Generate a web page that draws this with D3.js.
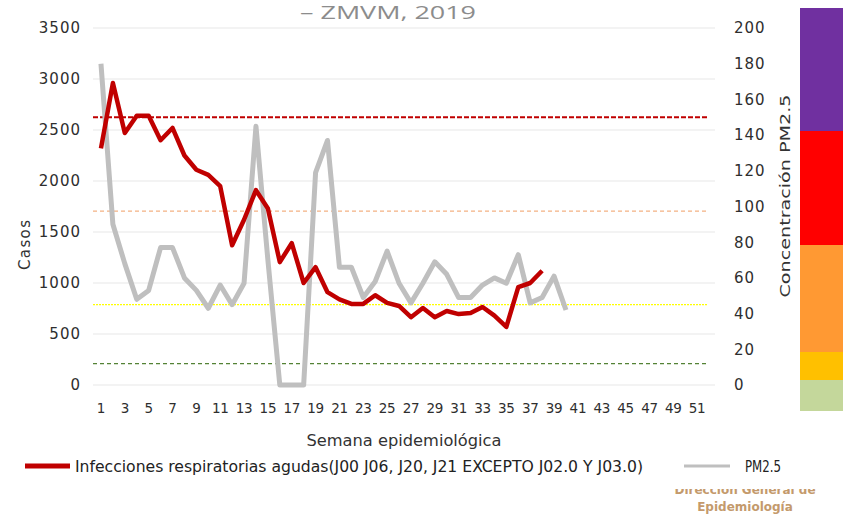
<!DOCTYPE html>
<html>
<head>
<meta charset="utf-8">
<script src="https://cdn.jsdelivr.net/npm/d3@7"></script>
<style>
    body { margin: 0; background: #fff; }
    svg { display: block; }
</style>
</head>
<body>
<script>
// weekly values
var semanas = d3.range(1, 53);
var casos = [2320, 2960, 2470, 2640, 2640, 2400, 2520, 2250, 2110, 2060,
    1950, 1370, 1620, 1910, 1730, 1205, 1390, 1000, 1155, 910,
    840, 795, 795, 880, 805, 775, 665, 755, 665, 725,
    695, 705, 765, 680, 570, 960, 1000, 1120];
var pm25 = [180, 90, 68, 48, 53, 77, 77, 60, 53, 43,
    56, 45, 57, 145, 70, 0, 0, 0, 119, 137,
    66, 66, 49, 58, 75, 57, 46, 57, 69, 62,
    49, 49, 56, 60, 57, 73, 46, 49, 61, 42];

// PM2.5 index thresholds (right axis)
var umbrales = [150, 97.4, 45, 12];
var umbralColores = ["#c00000", "#f4b183", "#ffff00", "#548235"];
var umbralDash = ["5,2", "4,3", "2,1", "4,3"];

var ticksCasos = d3.range(0, 3501, 500);
var ticksPM = d3.range(0, 201, 20);
var ticksSemana = semanas.filter(function (d) { return d % 2 == 1; });

// colour strip on the right (relative heights)
var bandaColores = ["#7030a0", "#ff0000", "#ff9933", "#ffc000", "#c4d79b"];
var bandaTamanos = [123, 114, 107, 28, 31];

var width = 843, height = 514;
var plot = { left: 93, right: 715, top: 28, bottom: 385 };

var svg = d3.select("body").append("svg")
    .attr("width", width)
    .attr("height", height)
    .style("font-family", "'DejaVu Sans', sans-serif");

// soft edge for the grey line
svg.append("defs").append("filter")
    .attr("id", "blur")
    .append("feGaussianBlur").attr("stdDeviation", 0.7);

var x = d3.scaleBand().domain(semanas).range([95, 715]);
var yL = d3.scaleLinear().domain([0, 3500]).range([plot.bottom, plot.top]);
var yR = d3.scaleLinear().domain([0, 200]).range([plot.bottom, plot.top]);
function cx(i) { return x(i + 1) + x.bandwidth() / 2; }

// title (only its last line is visible)
svg.append("text")
    .attr("x", 388).attr("y", 19)
    .attr("text-anchor", "middle")
    .attr("fill", "#8c8c8c")
    .style("font-family", "'Open Sans', sans-serif")
    .style("font-size", "18px")
    .attr("textLength", 176).attr("lengthAdjust", "spacingAndGlyphs")
    .text("– ZMVM, 2019");

// gridlines
svg.append("g").selectAll("line")
    .data(ticksCasos)
    .enter().append("line")
    .attr("x1", plot.left).attr("x2", plot.right)
    .attr("y1", function (d) { return yL(d); })
    .attr("y2", function (d) { return yL(d); })
    .attr("stroke", "#e8e8e8")
    .attr("stroke-width", 1.2);

// left axis
var axL = svg.append("g")
    .attr("transform", "translate(81,0)")
    .call(d3.axisLeft(yL).tickValues(ticksCasos).tickSize(0).tickPadding(0).tickFormat(d3.format("d")));
axL.select(".domain").remove();
axL.selectAll("text")
    .attr("fill", "#2e2e2e")
    .style("font-size", "15px")
    .style("letter-spacing", "1px")
    .style("font-family", "'DejaVu Sans', sans-serif");

// right axis
var axR = svg.append("g")
    .attr("transform", "translate(734,0)")
    .call(d3.axisRight(yR).tickValues(ticksPM).tickSize(0).tickPadding(0));
axR.select(".domain").remove();
axR.selectAll("text")
    .attr("fill", "#2e2e2e")
    .style("font-size", "15px")
    .style("letter-spacing", "1px")
    .style("font-family", "'DejaVu Sans', sans-serif");

// bottom axis
var axB = svg.append("g")
    .attr("transform", "translate(0,397)")
    .call(d3.axisBottom(x).tickValues(ticksSemana).tickSize(0).tickPadding(6));
axB.select(".domain").remove();
axB.selectAll("text")
    .attr("fill", "#2e2e2e")
    .style("font-size", "13.5px")
    .style("letter-spacing", "-0.3px")
    .style("font-family", "'DejaVu Sans', sans-serif");

// axis titles
svg.append("text")
    .attr("transform", "translate(30,245) rotate(-90)")
    .attr("text-anchor", "middle")
    .attr("fill", "#333")
    .style("font-size", "15px")
    .attr("textLength", 50).attr("lengthAdjust", "spacing")
    .text("Casos");

svg.append("text")
    .attr("transform", "translate(790,196) rotate(-90)")
    .attr("text-anchor", "middle")
    .attr("fill", "#333")
    .style("font-size", "14px")
    .attr("textLength", 203).attr("lengthAdjust", "spacingAndGlyphs")
    .text("Concentración PM2.5");

svg.append("text")
    .attr("x", 404).attr("y", 446)
    .attr("text-anchor", "middle")
    .attr("fill", "#333")
    .style("font-size", "15px")
    .attr("textLength", 195).attr("lengthAdjust", "spacingAndGlyphs")
    .text("Semana epidemiológica");

// threshold lines
svg.append("g").selectAll("line")
    .data(umbrales)
    .enter().append("line")
    .attr("x1", plot.left).attr("x2", 707)
    .attr("y1", function (d) { return yR(d); })
    .attr("y2", function (d) { return yR(d); })
    .attr("stroke", function (d, i) { return umbralColores[i]; })
    .attr("stroke-width", function (d, i) { return i == 0 ? 2 : 1.2; })
    .attr("stroke-dasharray", function (d, i) { return umbralDash[i]; });

// PM2.5 line
var lineaPM = d3.line()
    .x(function (d, i) { return cx(i); })
    .y(function (d) { return yR(d); });
svg.append("path")
    .datum(pm25)
    .attr("d", lineaPM)
    .attr("fill", "none")
    .attr("stroke", "#bfbfbf")
    .attr("stroke-width", 5)
    .attr("stroke-linejoin", "round")
    .attr("filter", "url(#blur)");

// cases line
var lineaCasos = d3.line()
    .x(function (d, i) { return cx(i); })
    .y(function (d) { return yL(d); });
svg.append("path")
    .datum(casos)
    .attr("d", lineaCasos)
    .attr("fill", "none")
    .attr("stroke", "#c00000")
    .attr("stroke-width", 4.5)
    .attr("stroke-linejoin", "round");

// colour strip
var yBanda = d3.scaleLinear().domain([0, d3.sum(bandaTamanos)]).range([8, 411]);
var acum = d3.cumsum([0].concat(bandaTamanos));
svg.append("g").selectAll("rect")
    .data(bandaColores)
    .enter().append("rect")
    .attr("x", 800).attr("width", 43)
    .attr("y", function (d, i) { return yBanda(acum[i]); })
    .attr("height", function (d, i) { return yBanda(acum[i + 1]) - yBanda(acum[i]); })
    .attr("fill", function (d) { return d; });

// footer logo text (top line partly hidden)
svg.append("text")
    .attr("x", 745).attr("y", 494)
    .attr("text-anchor", "middle")
    .attr("fill", "#c49a6c")
    .style("font-size", "12px").style("font-weight", "bold")
    .text("Dirección General de");
svg.append("rect")
    .attr("x", 600).attr("y", 440).attr("width", 243).attr("height", 49)
    .attr("fill", "#fff");
svg.append("text")
    .attr("x", 745).attr("y", 511)
    .attr("text-anchor", "middle")
    .attr("fill", "#c49a6c")
    .style("font-size", "12px").style("font-weight", "bold")
    .text("Epidemiología");

// legend
var leg = svg.append("g");
leg.append("line")
    .attr("x1", 25).attr("x2", 70).attr("y1", 466).attr("y2", 466)
    .attr("stroke", "#c00000").attr("stroke-width", 5);
leg.append("text")
    .attr("x", 75).attr("y", 472)
    .attr("fill", "#222")
    .style("font-size", "16px")
    .attr("textLength", 568).attr("lengthAdjust", "spacingAndGlyphs")
    .text("Infecciones respiratorias agudas(J00 J06, J20, J21 EXCEPTO J02.0 Y J03.0)");
leg.append("line")
    .attr("x1", 684).attr("x2", 730).attr("y1", 466).attr("y2", 466)
    .attr("stroke", "#bfbfbf").attr("stroke-width", 3);
leg.append("text")
    .attr("x", 745).attr("y", 472)
    .attr("fill", "#222")
    .style("font-size", "16px")
    .attr("textLength", 36).attr("lengthAdjust", "spacingAndGlyphs")
    .text("PM2.5");
</script>
</body>
</html>
